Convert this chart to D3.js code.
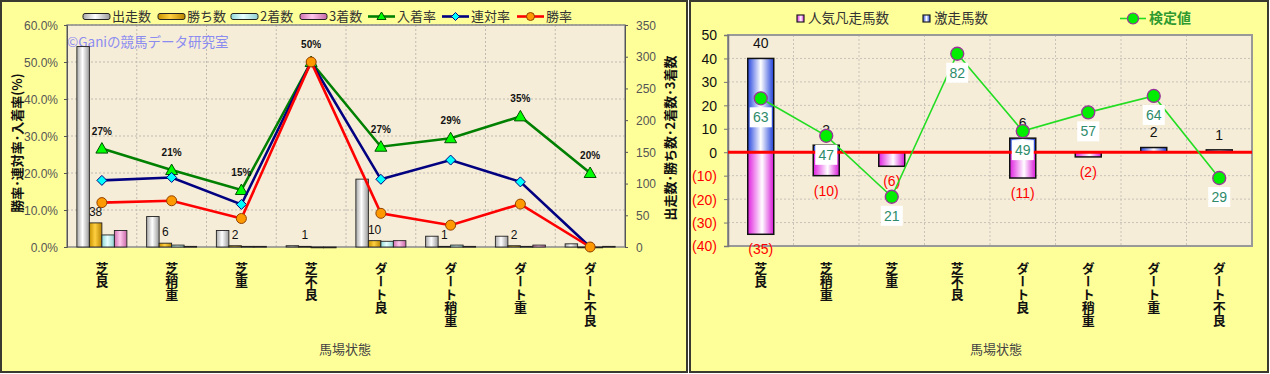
<!DOCTYPE html>
<html><head><meta charset="utf-8">
<script src="https://cdn.jsdelivr.net/npm/d3@7"></script>
<style>body{margin:0;background:#fff}svg{display:block}</style>
</head><body>
<svg id="c" width="1270" height="374"></svg>
<script>
const categories = ["芝良","芝稍重","芝重","芝不良","ダート良","ダート稍重","ダート重","ダート不良"];
const starters = [316,48,26,2,107,17,17,5];
const wins = [38,6,2,1,10,1,2,0];
const seconds = [19,3,1,0,9,3,1,0];
const thirds = [26,1,1,0,10,1,3,1];
const placeRate = [26.6,20.8,15.4,50,27.1,29.4,35.3,20];
const quinellaRate = [18.0,18.8,11.5,50,18.3,23.5,17.6,0];
const winRate = [12.0,12.5,7.7,50,9.1,5.9,11.6,0];
const placeLabels = ["27%","21%","15%","50%","27%","29%","35%","20%"];
const pctTicks = [0,10,20,30,40,50,60];
const countTicks = [0,50,100,150,200,250,300,350];

const upsetCounts = [40,3,0,0,6,0,2,1];       // 激走馬数
const flopCounts = [-35,-10,-6,0,-11,-2,0,0];  // 人気凡走馬数
const testValues = [63,47,21,82,49,57,64,29];  // 検定値
const diffTicks = [-40,-30,-20,-10,0,10,20,30,40,50];

const JP = "'Noto Sans CJK JP','Noto Sans',sans-serif";
const AR = "'Liberation Sans',Arial,sans-serif";
const svg = d3.select("#c");
const defs = svg.append("defs");
function hgrad(id, edgeL, mid, edgeR, midPos){
  const g = defs.append("linearGradient").attr("id", id).attr("x1","0").attr("x2","1").attr("y1","0").attr("y2","0");
  g.append("stop").attr("offset","0").attr("stop-color", edgeL);
  g.append("stop").attr("offset", midPos||"0.45").attr("stop-color", mid);
  g.append("stop").attr("offset","1").attr("stop-color", edgeR);
}
hgrad("gWhite","#a8a8a8","#ffffff","#9a9a9a");
hgrad("gGold","#c89200","#ffd040","#b88400");
hgrad("gCyan","#8fd8d8","#e8ffff","#8fd0d0");
hgrad("gPink","#d070b0","#ffc8ec","#c868a8");
hgrad("gBlue","#2848e0","#ffffff","#2040d8","0.5");
hgrad("gMag","#e020e0","#ffffff","#d818d8","0.55");

// ---------- Panels ----------
svg.append("rect").attr("x",1).attr("y",1).attr("width",686).attr("height",371)
  .attr("fill","#ffff99").attr("stroke","#3a3a30").attr("stroke-width",2);
svg.append("rect").attr("x",690).attr("y",1).attr("width",578).attr("height",371)
  .attr("fill","#ffff99").attr("stroke","#3a3a30").attr("stroke-width",2);

// ================= LEFT CHART =================
const L = {x0:67, x1:625, y0:25, y1:247};
const xL = d3.scaleBand().domain(categories).range([L.x0, L.x1]);
const yP = d3.scaleLinear().domain([0,60]).range([L.y1, L.y0]);
const yC = d3.scaleLinear().domain([0,350]).range([L.y1, L.y0]);
const gl = svg.append("g");
gl.append("rect").attr("x",L.x0).attr("y",L.y0).attr("width",L.x1-L.x0).attr("height",L.y1-L.y0)
  .attr("fill","#f6edd8");
gl.selectAll(".hg").data(pctTicks.slice(1)).join("line")
  .attr("x1",L.x0).attr("x2",L.x1).attr("y1",d=>yP(d)).attr("y2",d=>yP(d))
  .attr("stroke","#c0bab0").attr("stroke-dasharray","2,2");
gl.selectAll(".vg").data(categories.slice(1)).join("line")
  .attr("x1",d=>xL(d)).attr("x2",d=>xL(d)).attr("y1",L.y0).attr("y2",L.y1)
  .attr("stroke","#c0bab0").attr("stroke-dasharray","2,2");
gl.append("rect").attr("x",L.x0).attr("y",L.y0).attr("width",L.x1-L.x0).attr("height",L.y1-L.y0)
  .attr("fill","none").attr("stroke","#8a8a8a").attr("stroke-width",1.5);

gl.append("text").attr("x",67).attr("y",47).attr("font-family",JP).attr("font-size",13.5)
  .attr("fill","#8c8cf0").text("©Ganiの競馬データ研究室");

const sub = d3.scaleBand().domain([0,1,2,3]).range([0, 50]);
const barSeries = [
  {vals:starters, fill:"url(#gWhite)"},
  {vals:wins, fill:"url(#gGold)"},
  {vals:seconds, fill:"url(#gCyan)"},
  {vals:thirds, fill:"url(#gPink)"}
];
barSeries.forEach((s,si)=>{
  gl.selectAll(null).data(categories).join("rect")
    .attr("x",(d)=>xL(d)+xL.bandwidth()/2-25+sub(si))
    .attr("y",(d,i)=>yC(s.vals[i]))
    .attr("width",sub.bandwidth())
    .attr("height",(d,i)=>Math.max(0.8, L.y1-yC(s.vals[i])))
    .attr("fill",s.fill).attr("stroke","#222").attr("stroke-width",0.9);
});
gl.selectAll(null).data(categories).join("text")
  .attr("x",d=>xL(d)+xL.bandwidth()/2-25+sub(1)+sub.bandwidth()/2)
  .attr("y",(d,i)=>yC(wins[i])-7)
  .attr("text-anchor","middle").attr("font-family",AR).attr("font-size",12).attr("fill","#111")
  .text((d,i)=>wins[i]>0?wins[i]:"");

const cx = d=>xL(d)+xL.bandwidth()/2;
function drawLine(vals,color){
  gl.append("path").datum(vals)
    .attr("d",d3.line().x((v,i)=>cx(categories[i])).y(v=>yP(v)))
    .attr("fill","none").attr("stroke",color).attr("stroke-width",2.6);
}
drawLine(placeRate,"#008000");
gl.selectAll(null).data(placeRate).join("path")
  .attr("transform",(v,i)=>`translate(${cx(categories[i])},${yP(v)})`)
  .attr("d","M0,-6L6,4.5L-6,4.5Z").attr("fill","#00ff00").attr("stroke","#005000").attr("stroke-width",1);
drawLine(quinellaRate,"#000080");
gl.selectAll(null).data(quinellaRate).join("path")
  .attr("transform",(v,i)=>`translate(${cx(categories[i])},${yP(v)})`)
  .attr("d","M0,-5L5,0L0,5L-5,0Z").attr("fill","#00ffff").attr("stroke","#000080").attr("stroke-width",1);
drawLine(winRate,"#ff0000");
gl.selectAll(null).data(winRate).join("circle")
  .attr("cx",(v,i)=>cx(categories[i])).attr("cy",v=>yP(v)).attr("r",5)
  .attr("fill","#ff9900").attr("stroke","#904000").attr("stroke-width",1);
gl.selectAll(null).data(placeRate).join("text")
  .attr("x",(v,i)=>cx(categories[i])).attr("y",v=>yP(v)-14)
  .attr("text-anchor","middle").attr("font-family",AR).attr("font-weight","bold").attr("font-size",10)
  .attr("fill","#111").text((v,i)=>placeLabels[i]);

const axL = gl.append("g").attr("transform",`translate(${L.x0},0)`)
  .call(d3.axisLeft(yP).tickValues(pctTicks).tickSize(3).tickFormat(d=>d.toFixed(1)+"%"));
axL.select(".domain").attr("stroke","#555");
axL.selectAll(".tick line").attr("stroke","#555");
axL.selectAll("text").attr("font-family",AR).attr("font-size",12).attr("fill","#555").attr("dy","0.35em").attr("x",-9);
const axR = gl.append("g").attr("transform",`translate(${L.x1},0)`)
  .call(d3.axisRight(yC).tickValues(countTicks).tickSize(3));
axR.select(".domain").attr("stroke","#555");
axR.selectAll(".tick line").attr("stroke","#555");
axR.selectAll("text").attr("font-family",AR).attr("font-size",12).attr("fill","#555").attr("dy","0.35em").attr("x",11);

gl.append("text").attr("transform","translate(22,143) rotate(-90)").attr("text-anchor","middle")
  .attr("font-family",JP).attr("font-weight","bold").attr("font-size",13).attr("fill","#111")
  .text("勝率･連対率･入着率(%)");
gl.append("text").attr("transform","translate(675,138) rotate(-90)").attr("text-anchor","middle")
  .attr("font-family",JP).attr("font-weight","bold").attr("font-size",13).attr("fill","#111")
  .text("出走数･勝ち数･2着数･3着数");
gl.selectAll(null).data(categories).join("text")
  .attr("x",d=>cx(d)).attr("y",262)
  .style("writing-mode","vertical-rl")
  .attr("font-family",JP).attr("font-weight","bold").attr("font-size",13).attr("fill","#111")
  .text(d=>d);
gl.append("text").attr("x",345).attr("y",354).attr("text-anchor","middle")
  .attr("font-family",JP).attr("font-size",13).attr("fill","#444").text("馬場状態");

const legL = [
  {t:"出走数",x:83,type:"bar",fill:"url(#gWhite)"},
  {t:"勝ち数",x:158,type:"bar",fill:"url(#gGold)"},
  {t:"2着数",x:231,type:"bar",fill:"url(#gCyan)"},
  {t:"3着数",x:300,type:"bar",fill:"url(#gPink)"},
  {t:"入着率",x:368,type:"tri",c:"#008000"},
  {t:"連対率",x:442,type:"dia",c:"#000080"},
  {t:"勝率",x:517,type:"cir",c:"#ff0000"}
];
legL.forEach(it=>{
  const y=16.5;
  if(it.type==="bar"){
    gl.append("rect").attr("x",it.x).attr("y",y-3).attr("width",27).attr("height",6).attr("rx",2)
      .attr("fill",it.fill).attr("stroke","#222").attr("stroke-width",1);
  } else {
    gl.append("line").attr("x1",it.x).attr("x2",it.x+27).attr("y1",y).attr("y2",y)
      .attr("stroke",it.c).attr("stroke-width",2.6);
    const m=it.x+13.5;
    if(it.type==="tri") gl.append("path").attr("d",`M${m},${y-4.5}L${m+4.5},${y+3}L${m-4.5},${y+3}Z`).attr("fill","#00ff00").attr("stroke","#005000");
    if(it.type==="dia") gl.append("path").attr("d",`M${m},${y-4}L${m+4},${y}L${m},${y+4}L${m-4},${y}Z`).attr("fill","#00ffff").attr("stroke","#000080");
    if(it.type==="cir") gl.append("circle").attr("cx",m).attr("cy",y).attr("r",4).attr("fill","#ff9900").attr("stroke","#904000");
  }
  gl.append("text").attr("x",it.x+29).attr("y",y).attr("dy","0.35em")
    .attr("font-family",JP).attr("font-size",13).attr("fill","#333").text(it.t);
});

// ================= RIGHT CHART =================
const R = {x0:728, x1:1252, y0:35, y1:246};
const xR = d3.scaleBand().domain(categories).range([R.x0, R.x1]);
const yD = d3.scaleLinear().domain([-40,50]).range([R.y1, R.y0]);
const yT = d3.scaleLinear().domain([0,90]).range([R.y1, R.y0]);
const gr = svg.append("g");
const cxR = d=>xR(d)+xR.bandwidth()/2;
gr.append("rect").attr("x",R.x0).attr("y",R.y0).attr("width",R.x1-R.x0).attr("height",R.y1-R.y0).attr("fill","#f6edd8");
gr.selectAll(null).data(diffTicks.slice(1,-1)).join("line")
  .attr("x1",R.x0).attr("x2",R.x1).attr("y1",d=>yD(d)).attr("y2",d=>yD(d))
  .attr("stroke","#c8c2b8").attr("stroke-dasharray","2,2");
gr.selectAll(null).data(categories.slice(1)).join("line")
  .attr("x1",d=>xR(d)).attr("x2",d=>xR(d)).attr("y1",R.y0).attr("y2",R.y1)
  .attr("stroke","#c8c2b8").attr("stroke-dasharray","2,2");
gr.append("rect").attr("x",R.x0).attr("y",R.y0).attr("width",R.x1-R.x0).attr("height",R.y1-R.y0)
  .attr("fill","none").attr("stroke","#999").attr("stroke-width",2);
const axD = gr.append("g").attr("transform",`translate(${R.x0},0)`)
  .call(d3.axisLeft(yD).tickValues(diffTicks).tickSize(4).tickFormat(d=>d<0?`(${-d})`:d));
axD.select(".domain").attr("stroke","#777").attr("stroke-width",1.5);
axD.selectAll(".tick line").attr("stroke","#777");
axD.selectAll("text").attr("font-family",AR).attr("font-size",14).attr("dy","0.35em").attr("x",-11)
  .attr("fill",d=>d<0?"#ff0000":"#111");

const bw = 26;
gr.selectAll(null).data(categories).join("rect")
  .attr("x",d=>cxR(d)-bw/2).attr("y",yD(0)).attr("width",bw)
  .attr("height",(d,i)=>yD(flopCounts[i])-yD(0))
  .attr("fill","url(#gMag)").attr("stroke","#111").attr("stroke-width",1.5)
  .attr("display",(d,i)=>flopCounts[i]===0?"none":null);
gr.selectAll(null).data(categories).join("rect")
  .attr("x",d=>cxR(d)-bw/2).attr("y",(d,i)=>yD(upsetCounts[i])).attr("width",bw)
  .attr("height",(d,i)=>yD(0)-yD(upsetCounts[i]))
  .attr("fill","url(#gBlue)").attr("stroke","#111").attr("stroke-width",1.5)
  .attr("display",(d,i)=>upsetCounts[i]===0?"none":null);
gr.selectAll(null).data(categories).join("text")
  .attr("x",d=>cxR(d)).attr("y",(d,i)=>yD(upsetCounts[i])-15).attr("dy","0.35em")
  .attr("text-anchor","middle").attr("font-family",AR).attr("font-size",14).attr("fill","#111")
  .text((d,i)=>upsetCounts[i]>0?upsetCounts[i]:"");
gr.selectAll(null).data(categories).join("text")
  .attr("x",d=>cxR(d)).attr("y",(d,i)=>yD(flopCounts[i])+15).attr("dy","0.35em")
  .attr("text-anchor","middle").attr("font-family",AR).attr("font-size",14).attr("fill","#ff0000")
  .text((d,i)=>flopCounts[i]<0?`(${-flopCounts[i]})`:"");
gr.append("line").attr("x1",R.x0).attr("x2",R.x1).attr("y1",yD(0)).attr("y2",yD(0))
  .attr("stroke","#ff0000").attr("stroke-width",3);
gr.append("path").datum(testValues)
  .attr("d",d3.line().x((v,i)=>cxR(categories[i])).y(v=>yT(v)))
  .attr("fill","none").attr("stroke","#22dd22").attr("stroke-width",1.6);
gr.selectAll(null).data(testValues).join("circle")
  .attr("cx",(v,i)=>cxR(categories[i])).attr("cy",v=>yT(v)).attr("r",6.5)
  .attr("fill","#00ee00").attr("stroke","#993399").attr("stroke-width",1.3);
const tl = gr.selectAll(null).data(testValues).join("g")
  .attr("transform",(v,i)=>`translate(${cxR(categories[i])},${yT(v)+19})`);
tl.append("rect").attr("x",-11).attr("y",-10).attr("width",22).attr("height",20).attr("fill","#fff");
tl.append("text").attr("text-anchor","middle").attr("dy","0.35em")
  .attr("font-family",AR).attr("font-size",14).attr("fill","#2e8b6a").text(v=>v);

gr.selectAll(null).data(categories).join("text")
  .attr("x",d=>cxR(d)).attr("y",262)
  .style("writing-mode","vertical-rl")
  .attr("font-family",JP).attr("font-weight","bold").attr("font-size",13).attr("fill","#111")
  .text(d=>d);
gr.append("text").attr("x",996).attr("y",354).attr("text-anchor","middle")
  .attr("font-family",JP).attr("font-size",13).attr("fill","#444").text("馬場状態");

[{t:"人気凡走馬数",x:797,f:"url(#gMag)"},{t:"激走馬数",x:923,f:"url(#gBlue)"}].forEach(it=>{
  gr.append("rect").attr("x",it.x).attr("y",15).attr("width",7).attr("height",7)
    .attr("fill",it.f).attr("stroke","#222").attr("stroke-width",1.2);
  gr.append("text").attr("x",it.x+11).attr("y",18.5).attr("dy","0.35em")
    .attr("font-family",JP).attr("font-size",13.5).attr("fill","#333").text(it.t);
});
gr.append("line").attr("x1",1120).attr("x2",1146).attr("y1",18.5).attr("y2",18.5).attr("stroke","#22dd22").attr("stroke-width",1.6);
gr.append("circle").attr("cx",1133).attr("cy",18.5).attr("r",5.5).attr("fill","#00ee00").attr("stroke","#993399").attr("stroke-width",1.2);
gr.append("text").attr("x",1149).attr("y",18.5).attr("dy","0.35em")
  .attr("font-family",JP).attr("font-weight","bold").attr("font-size",14).attr("fill","#2f9a2f").text("検定値");
</script>
</body></html>
